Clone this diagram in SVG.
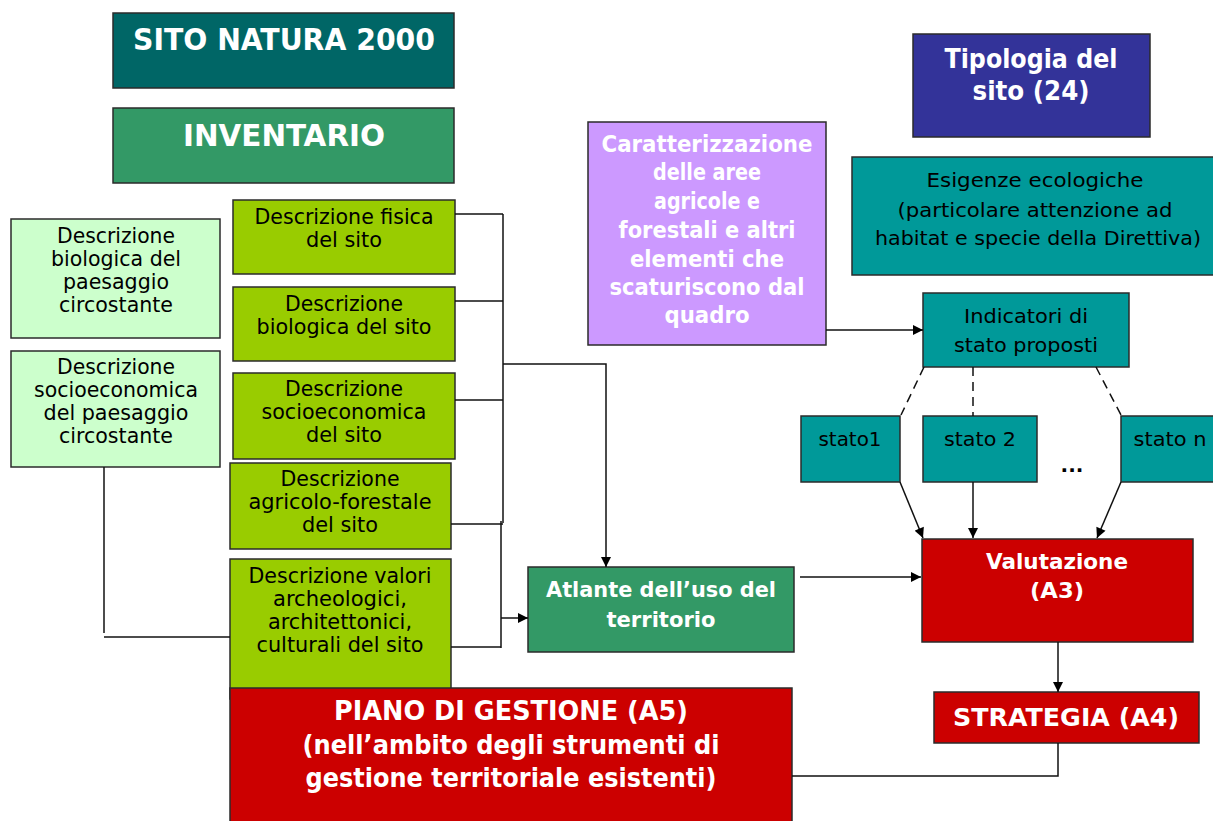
<svg xmlns="http://www.w3.org/2000/svg" width="1213" height="821" viewBox="0 0 1213 821">
<style>
.box{stroke:#2b2b2b;stroke-width:1.5}
.t{font-family:"DejaVu Sans Condensed","DejaVu Sans","Liberation Sans",sans-serif;fill:#000;text-anchor:middle;font-size:22px}
.tb{font-family:"DejaVu Sans Condensed","DejaVu Sans","Liberation Sans",sans-serif;fill:#fff;font-weight:bold;text-anchor:middle}
.v{font-family:"DejaVu Sans","Verdana","Liberation Sans",sans-serif;fill:#000;text-anchor:middle;font-size:20px}
.vb{font-family:"DejaVu Sans","Verdana","Liberation Sans",sans-serif;fill:#fff;font-weight:bold;text-anchor:middle}
.ln{fill:none;stroke:#111;stroke-width:1.5}
.dash{fill:none;stroke:#111;stroke-width:1.5;stroke-dasharray:9 6}
</style>
<defs>
<marker id="ah" viewBox="0 0 10 10" refX="10" refY="5" markerWidth="11" markerHeight="10" markerUnits="userSpaceOnUse" orient="auto">
<path d="M0,0 L10,5 L0,10 z" fill="#000"/>
</marker>
</defs>
<rect width="1213" height="821" fill="#fff"/>

<g id="sito">
<rect class="box" x="113" y="13" width="341" height="75" fill="#006666"/>
<text class="tb" x="284" y="50" font-size="30" textLength="302" lengthAdjust="spacingAndGlyphs">SITO NATURA 2000</text>
</g>
<g id="inventario">
<rect class="box" x="113" y="108" width="341" height="75" fill="#339966"/>
<text class="tb" x="284" y="146" font-size="30" textLength="202" lengthAdjust="spacingAndGlyphs">INVENTARIO</text>
</g>

<g id="biologica-paesaggio">
<rect class="box" x="11" y="219" width="209" height="119" fill="#CCFFCC"/>
<text class="t" x="116" y="243" textLength="118" lengthAdjust="spacingAndGlyphs">Descrizione</text>
<text class="t" x="116" y="266" textLength="130" lengthAdjust="spacingAndGlyphs">biologica del</text>
<text class="t" x="116" y="289" textLength="106" lengthAdjust="spacingAndGlyphs">paesaggio</text>
<text class="t" x="116" y="312" textLength="114" lengthAdjust="spacingAndGlyphs">circostante</text>
</g>
<g id="socio-paesaggio">
<rect class="box" x="11" y="351" width="209" height="116" fill="#CCFFCC"/>
<text class="t" x="116" y="374" textLength="118" lengthAdjust="spacingAndGlyphs">Descrizione</text>
<text class="t" x="116" y="397" textLength="164" lengthAdjust="spacingAndGlyphs">socioeconomica</text>
<text class="t" x="116" y="420" textLength="145" lengthAdjust="spacingAndGlyphs">del paesaggio</text>
<text class="t" x="116" y="443" textLength="114" lengthAdjust="spacingAndGlyphs">circostante</text>
</g>

<g id="fisica">
<rect class="box" x="233" y="200" width="222" height="74" fill="#99CC00"/>
<text class="t" x="344" y="224" textLength="179" lengthAdjust="spacingAndGlyphs">Descrizione fisica</text>
<text class="t" x="344" y="247" textLength="76" lengthAdjust="spacingAndGlyphs">del sito</text>
</g>
<g id="biologica-sito">
<rect class="box" x="233" y="287" width="222" height="74" fill="#99CC00"/>
<text class="t" x="344" y="311" textLength="118" lengthAdjust="spacingAndGlyphs">Descrizione</text>
<text class="t" x="344" y="334" textLength="175" lengthAdjust="spacingAndGlyphs">biologica del sito</text>
</g>
<g id="socio-sito">
<rect class="box" x="233" y="373" width="222" height="86" fill="#99CC00"/>
<text class="t" x="344" y="396" textLength="118" lengthAdjust="spacingAndGlyphs">Descrizione</text>
<text class="t" x="344" y="419" textLength="165" lengthAdjust="spacingAndGlyphs">socioeconomica</text>
<text class="t" x="344" y="442" textLength="76" lengthAdjust="spacingAndGlyphs">del sito</text>
</g>
<g id="agricolo">
<rect class="box" x="230" y="463" width="221" height="86" fill="#99CC00"/>
<text class="t" x="340" y="486" textLength="119" lengthAdjust="spacingAndGlyphs">Descrizione</text>
<text class="t" x="340" y="509" textLength="183" lengthAdjust="spacingAndGlyphs">agricolo-forestale</text>
<text class="t" x="340" y="532" textLength="76" lengthAdjust="spacingAndGlyphs">del sito</text>
</g>
<g id="valori">
<rect class="box" x="230" y="559" width="221" height="140" fill="#99CC00"/>
<text class="t" x="340" y="583" textLength="183" lengthAdjust="spacingAndGlyphs">Descrizione valori</text>
<text class="t" x="340" y="606" textLength="134" lengthAdjust="spacingAndGlyphs">archeologici,</text>
<text class="t" x="340" y="629" textLength="144" lengthAdjust="spacingAndGlyphs">architettonici,</text>
<text class="t" x="340" y="652" textLength="167" lengthAdjust="spacingAndGlyphs">culturali del sito</text>
</g>

<g id="piano">
<rect class="box" x="230" y="688" width="562" height="145" fill="#CC0000"/>
<text class="tb" x="511" y="720" font-size="26" textLength="354" lengthAdjust="spacingAndGlyphs">PIANO DI GESTIONE (A5)</text>
<text class="tb" x="511" y="754" font-size="26" textLength="417" lengthAdjust="spacingAndGlyphs">(nell’ambito degli strumenti di</text>
<text class="tb" x="511" y="787" font-size="26" textLength="411" lengthAdjust="spacingAndGlyphs">gestione territoriale esistenti)</text>
</g>

<g id="atlante">
<rect class="box" x="528" y="567" width="266" height="85" fill="#339966"/>
<text class="tb" x="661" y="597" font-size="22" textLength="230" lengthAdjust="spacingAndGlyphs">Atlante dell’uso del</text>
<text class="tb" x="661" y="627" font-size="22" textLength="109" lengthAdjust="spacingAndGlyphs">territorio</text>
</g>

<g id="caratterizzazione">
<rect class="box" x="588" y="122" width="238" height="223" fill="#CC99FF"/>
<text class="tb" x="707" y="152" font-size="23" textLength="211" lengthAdjust="spacingAndGlyphs">Caratterizzazione</text>
<text class="tb" x="707" y="180" font-size="23" textLength="108" lengthAdjust="spacingAndGlyphs">delle aree</text>
<text class="tb" x="707" y="209" font-size="23" textLength="106" lengthAdjust="spacingAndGlyphs">agricole e</text>
<text class="tb" x="707" y="238" font-size="23" textLength="177" lengthAdjust="spacingAndGlyphs">forestali e altri</text>
<text class="tb" x="707" y="267" font-size="23" textLength="154" lengthAdjust="spacingAndGlyphs">elementi che</text>
<text class="tb" x="707" y="295" font-size="23" textLength="195" lengthAdjust="spacingAndGlyphs">scaturiscono dal</text>
<text class="tb" x="707" y="323" font-size="23" textLength="85" lengthAdjust="spacingAndGlyphs">quadro</text>
</g>

<g id="tipologia">
<rect class="box" x="913" y="34" width="237" height="103" fill="#333399"/>
<text class="vb" x="1031" y="68" font-size="26" textLength="173" lengthAdjust="spacingAndGlyphs">Tipologia del</text>
<text class="vb" x="1031" y="100" font-size="26" textLength="117" lengthAdjust="spacingAndGlyphs">sito (24)</text>
</g>

<g id="esigenze">
<rect class="box" x="852" y="157" width="370" height="118" fill="#009999"/>
<text class="v" x="1035" y="187" font-size="21" textLength="217" lengthAdjust="spacingAndGlyphs">Esigenze ecologiche</text>
<text class="v" x="1035" y="217" font-size="21" textLength="275" lengthAdjust="spacingAndGlyphs">(particolare attenzione ad</text>
<text class="v" x="1038" y="245" font-size="21" textLength="326" lengthAdjust="spacingAndGlyphs">habitat e specie della Direttiva)</text>
</g>

<g id="indicatori">
<rect class="box" x="923" y="293" width="206" height="74" fill="#009999"/>
<text class="v" x="1026" y="323" textLength="124" lengthAdjust="spacingAndGlyphs">Indicatori di</text>
<text class="v" x="1026" y="352" textLength="144" lengthAdjust="spacingAndGlyphs">stato proposti</text>
</g>

<g id="stato1">
<rect class="box" x="801" y="416" width="99" height="66" fill="#009999"/>
<text class="v" x="850" y="446" textLength="63" lengthAdjust="spacingAndGlyphs">stato1</text>
</g>
<g id="stato2">
<rect class="box" x="923" y="416" width="114" height="66" fill="#009999"/>
<text class="v" x="980" y="446" textLength="72" lengthAdjust="spacingAndGlyphs">stato 2</text>
</g>
<g id="staton">
<rect class="box" x="1121" y="416" width="100" height="66" fill="#009999"/>
<text class="v" x="1170" y="446" textLength="73" lengthAdjust="spacingAndGlyphs">stato n</text>
</g>
<g id="dots">
<text class="v" x="1072" y="472" font-weight="bold" font-size="20">...</text>
</g>

<g id="valutazione">
<rect class="box" x="922" y="539" width="271" height="103" fill="#CC0000"/>
<text class="vb" x="1057" y="569" font-size="22" textLength="142" lengthAdjust="spacingAndGlyphs">Valutazione</text>
<text class="vb" x="1057" y="598" font-size="22" textLength="54" lengthAdjust="spacingAndGlyphs">(A3)</text>
</g>

<g id="strategia">
<rect class="box" x="934" y="692" width="265" height="51" fill="#CC0000"/>
<text class="vb" x="1066" y="726" font-size="24" textLength="226" lengthAdjust="spacingAndGlyphs">STRATEGIA (A4)</text>
</g>

<g id="connectors">
<path class="ln" d="M455 214 H503"/>
<path class="ln" d="M455 301 H503"/>
<path class="ln" d="M455 400 H503"/>
<path class="ln" d="M503 214 V523"/>
<path class="ln" d="M451 524 H503"/>
<path class="ln" d="M503 364 H606 V567" marker-end="url(#ah)"/>
<path class="ln" d="M501 521 V648"/>
<path class="ln" d="M451 647 H501"/>
<path class="ln" d="M501 618 H528" marker-end="url(#ah)"/>
<path class="ln" d="M104 467 V633"/>
<path class="ln" d="M104 637 H230"/>
<path class="ln" d="M826 330 H923" marker-end="url(#ah)"/>
<path class="dash" d="M924 367 L901 415"/>
<path class="dash" d="M973 367 V416"/>
<path class="dash" d="M1096 367 L1121 415"/>
<path class="ln" d="M900 482 L923 538" marker-end="url(#ah)"/>
<path class="ln" d="M973 482 V538" marker-end="url(#ah)"/>
<path class="ln" d="M1121 482 L1097 538" marker-end="url(#ah)"/>
<path class="ln" d="M800 577 H921" marker-end="url(#ah)"/>
<path class="ln" d="M1058 642 V692" marker-end="url(#ah)"/>
<path class="ln" d="M1058 743 V776 H792"/>
</g>
</svg>
